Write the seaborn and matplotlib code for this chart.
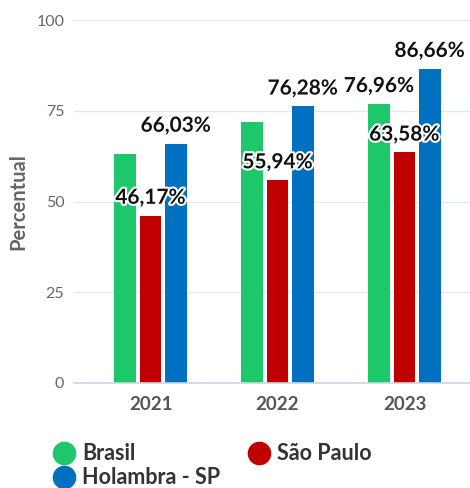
import matplotlib
matplotlib.use("Agg")
import matplotlib.pyplot as plt
import matplotlib.patheffects as pe
import seaborn as sns
import pandas as pd

years = ["2021", "2022", "2023"]
series = ["Brasil", "São Paulo", "Holambra - SP"]
brasil = [63.2, 72.0, 76.96]
sao_paulo = [46.17, 55.94, 63.58]
holambra = [66.03, 76.28, 86.66]
# label texts shown above bars (None = hidden in original)
brasil_labels = [None, None, "76,96%"]
sao_paulo_labels = ["46,17%", "55,94%", "63,58%"]
holambra_labels = ["66,03%", "76,28%", "86,66%"]
colors = ["#1DC86A", "#C00000", "#0070C0"]
yticks = [0, 25, 50, 75, 100]

df = pd.DataFrame({
    "Ano": years * 3,
    "Série": [s for s in series for _ in years],
    "Valor": brasil + sao_paulo + holambra,
})
labels = brasil_labels + sao_paulo_labels + holambra_labels

sns.set_theme(style="white")
plt.rcParams["font.family"] = ["Lato", "DejaVu Sans"]

W, H = 470, 488
fig = plt.figure(figsize=(W / 100, H / 100), dpi=100)
ax = fig.add_axes([74 / W, 1 - 383 / H, (470 - 74) / W, (383 - 20.3) / H])

sns.barplot(data=df, x="Ano", y="Valor", hue="Série", palette=colors,
            width=0.6, gap=0.14, legend=False, ax=ax, saturation=1,
            edgecolor="none")

band_px = 127.0
ax.set_xlim(-0.5 - 13 / band_px, 2.5 + 2 / band_px)
ax.set_ylim(0, 100)
ax.set_yticks(yticks)
ax.grid(axis="y", color="#E4E9F1", linewidth=1)
ax.set_axisbelow(True)
for s in ["top", "right", "left"]:
    ax.spines[s].set_visible(False)
ax.spines["bottom"].set_color("#CDD6E4")
ax.spines["bottom"].set_linewidth(1.2)

ax.tick_params(axis="y", direction="in", length=9.4, width=1.2, color="#D3DCEA",
               labelsize=11.5, labelcolor="#666666", pad=7)
ax.tick_params(axis="x", length=0, labelsize=13.5, labelcolor="#555555", pad=9)
for t in ax.get_xticklabels():
    t.set_fontweight("bold")
ax.set_xticks([-0.5, 0.5, 1.5, 2.5], minor=True)
ax.tick_params(axis="x", which="minor", direction="out", length=8.5, width=1.2,
               color="#CDD6E4")
ax.set_xlabel("")
ax.set_ylabel("Percentual", fontsize=14.5, fontweight="bold", color="#666666",
              labelpad=6)

# data labels
bars = [p for p in ax.patches if p.get_height() > 0]
for bar, lab in zip(bars, labels):
    if lab is None:
        continue
    ax.annotate(lab, (bar.get_x() + bar.get_width() / 2, bar.get_height()),
                xytext=(0, 12.8), textcoords="offset points", ha="center",
                va="center", fontsize=15, fontweight="bold", color="#111111",
                path_effects=[pe.Stroke(linewidth=3, foreground="white"), pe.Normal()])

# legend (manual, circles + text)
pos = [(64, 453), (259, 453), (64, 477)]
for (px, py), name, c in zip(pos, series, colors):
    fig.lines.append(matplotlib.lines.Line2D([px / W], [1 - py / H], marker="o",
                                             markersize=16, color=c,
                                             transform=fig.transFigure))
    fig.text((px + 18) / W, 1 - py / H, name, fontsize=15.5, fontweight="bold",
             color="#333333", va="center", ha="left")

fig.savefig("out.png", dpi=100)
